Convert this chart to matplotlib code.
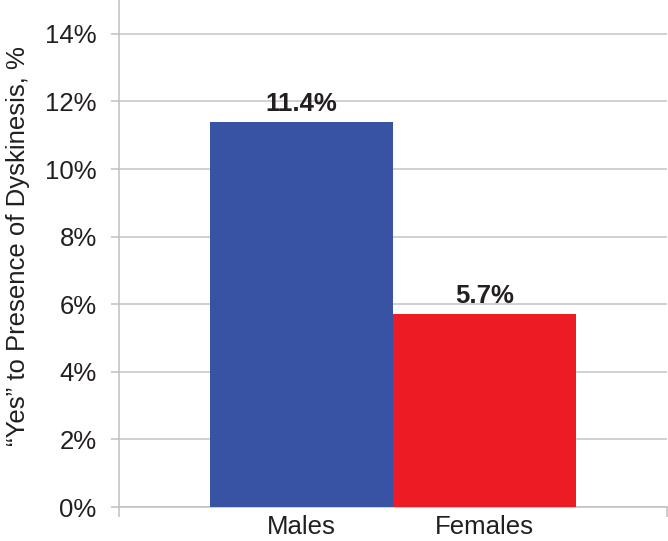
import matplotlib.pyplot as plt

groups = ['Males', 'Females']
values = [11.4, 5.7]
colors = ['#3953a4', '#ed1c24']

plt.rcParams['font.family'] = ['Liberation Sans', 'DejaVu Sans']

fig = plt.figure(figsize=(6.68, 5.41), dpi=100)
ax = fig.add_axes([0.1781, 0.0628, 0.8204, 0.9372])

ax.bar(range(len(groups)), values, width=1.0, color=colors, zorder=3)
for i, v in enumerate(values):
    ax.text(i, v + 0.18, '%.1f%%' % v, ha='center', va='bottom',
            fontsize=18.5, fontweight='bold', color='#231f20', zorder=4)

ax.set_xlim(-1, 2)
ax.set_ylim(0, 15)
ax.set_yticks(range(0, 15, 2))
ax.set_yticklabels(['%d%%' % t for t in range(0, 15, 2)])
ax.set_xticks([-1, 2], minor=False)
ax.set_xticklabels(['', ''])
ax.set_xticks([0, 1], minor=True)
ax.set_xticklabels(groups, minor=True)
ax.tick_params(axis='x', which='minor', length=0, pad=6, labelsize=18.5,
               labelcolor='#231f20')
ax.tick_params(axis='x', which='major', length=7, color='#c0c0c0', width=1.1)
ax.tick_params(axis='y', length=6, color='#c0c0c0', width=1.1, pad=10,
               labelsize=18.5, labelcolor='#231f20')

ax.grid(axis='y', color='#c4c4c4', linewidth=1.1, zorder=0)
for s in ['top', 'right']:
    ax.spines[s].set_visible(False)
for s in ['left', 'bottom']:
    ax.spines[s].set_color('#c0c0c0')
    ax.spines[s].set_linewidth(1.1)

ax.set_ylabel('\u201cYes\u201d to Presence of Dyskinesis, %', fontsize=18.5,
              color='#231f20')
ax.yaxis.set_label_coords(-0.162, 0.514)

fig.savefig('out.png', dpi=100)
